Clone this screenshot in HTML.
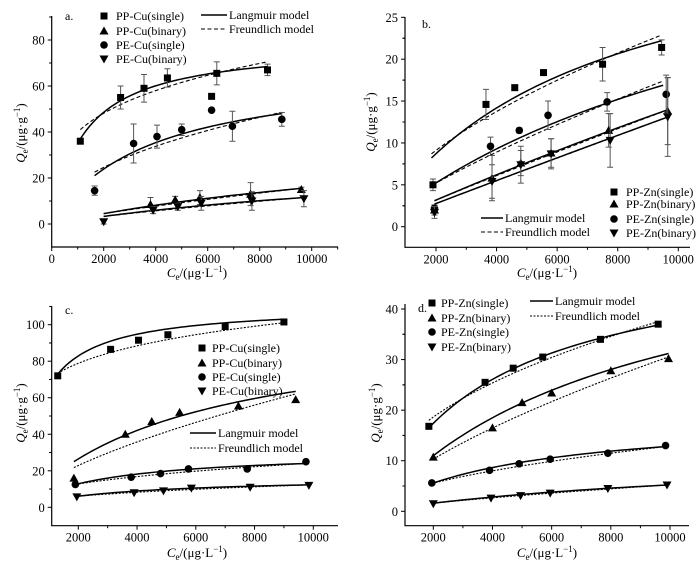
<!DOCTYPE html>
<html><head><meta charset="utf-8"><style>
html,body{margin:0;padding:0;background:#fff;}
svg{display:block;font-family:"Liberation Serif","Noto Serif CJK SC",serif;}
</style></head><body>
<svg id="fig" width="700" height="566" viewBox="0 0 700 566" xmlns="http://www.w3.org/2000/svg"></svg>
<script>
// ---------- Data ----------
const aNames = ["PP-Cu(single)","PP-Cu(binary)","PE-Cu(single)","PE-Cu(binary)"];
const aPPsX = [1100,2650,3550,4450,6150,6350,8300];
const aPPsY = [36,55,59,63.5,55.5,65.5,67];
const aPPsE = [0,5,6,4,0,5,2.5];
const aPPbX = [3800,4750,5700,7650,9600];
const aPPbY = [8.5,10.5,11.5,13,15];
const aPPbE = [3,1.5,3,5,1];
const aPEsX = [1650,3150,4050,5000,6150,6950,8850];
const aPEsY = [14.5,35,38,41,49.5,42.5,45.5];
const aPEsE = [2,8.5,5,2.5,0,6.5,3];
const aPEbX = [2000,3900,4850,5750,7700,9700];
const aPEbY = [1,6,7.5,9,10,11];
const aPEbE = [1,1.5,1.5,3,4,3.5];
const aLang = [[78.7,8.06e-4],[43.4,5.78e-5],[68.05,2.705e-4],[32.45,5.66e-5]];
const aFreu = [[6.28,0.268],[0.01128,0.788],[0.763,0.457],[0.00809,0.791]];
const aRange = [[1100,8300],[2000,9600],[1650,8850],[2000,9700]];

const bNames = ["PP-Zn(single)","PP-Zn(binary)","PE-Zn(single)","PE-Zn(binary)"];
const bPPsX = [1900,3650,4600,5550,7500,9450];
const bPPsY = [5,14.6,16.6,18.4,19.4,21.4];
const bPPsE = [0.7,1.8,0,0,2,0.9];
const bPPbX = [1950,3850,4800,5800,7700,9650];
const bPPbY = [2,5.8,7.6,8.8,11.5,13.8];
const bPPbE = [0.6,2.7,1.5,1.7,2,4];
const bPEsX = [1950,3800,4750,5700,7650,9600];
const bPEsY = [2.2,9.6,11.5,13.3,14.9,15.8];
const bPEsE = [0.3,1.1,0.3,1.7,1.1,2.3];
const bPEbX = [1950,3850,4800,5800,7750,9650];
const bPEbY = [1.7,5.4,7.4,8.7,10.3,13.1];
const bPEbE = [0.7,2,2.2,1.8,3.2,4.7];
const bLang = [[37.99,1.488e-4],[124.4,1.31e-5],[41.7,7.165e-5],[535,2.6e-6]];
const bFreu = [[0.1005,0.593],[0.002484,0.941],[0.01438,0.775],[0.001522,0.9875]];
const bRange = [[1850,9450],[1950,9600],[1900,9500],[1950,9650]];

const cPPsX = [1300,3100,4050,5050,7000,9000];
const cPPsY = [72,86.5,91.5,94.5,99,101.5];
const cPPbX = [1850,3600,4500,5450,7450,9400];
const cPPbY = [16,40,47,52,55.5,59];
const cPEsX = [1900,3800,4800,5750,7750,9750];
const cPEsY = [12.5,16.5,18.5,21,21,25];
const cPEbX = [1950,3900,4900,5850,7850,9850];
const cPEbY = [5.7,8,9,10.5,11,12];
const cLang = [[110.7,1.49e-3],[102,1.755e-4],[30.9,3.58e-4],[16.6,2.9e-4]];
const cFreu = [[22.5,0.165],[0.17,0.645],[0.615,0.399],[0.209,0.443]];
const cRange = [[1300,9000],[1850,9400],[1900,9750],[1950,9850]];

const dPPsX = [1850,3750,4700,5700,7650,9600];
const dPPsY = [16.8,25.5,28.3,30.5,34,37];
const dPPbX = [2000,4000,5000,6000,8000,9950];
const dPPbY = [10.7,16.5,21.5,23.4,27.8,30.2];
const dPEsX = [1950,3900,4900,5950,7900,9850];
const dPEsY = [5.6,8.1,9.4,10.3,11.5,13];
const dPEbX = [2000,3950,4950,5950,7900,9900];
const dPEbY = [1.5,2.6,3.1,3.6,4.5,5.2];
const dLang = [[52.1,2.506e-4],[57.97,1.171e-4],[19.03,2.084e-4],[12.08,7.63e-5]];
const dFreu = [[0.628,0.446],[0.06,0.677],[0.1058,0.5215],[0.0059,0.737]];
const dRange = [[1850,9600],[2000,9950],[1950,9850],[2000,9900]];

const aXTicks = [0,2000,4000,6000,8000,10000];
const aYTicks = [0,20,40,60,80];
const bXTicks = [2000,4000,6000,8000,10000];
const bYTicks = [0,5,10,15,20,25];
const cXTicks = [2000,4000,6000,8000,10000];
const cYTicks = [0,20,40,60,80,100];
const dXTicks = [2000,4000,6000,8000,10000];
const dYTicks = [0,10,20,30,40];

// ---------- Drawing ----------
const NS = "http://www.w3.org/2000/svg";
const svg = document.getElementById("fig");
const FONT = '"Liberation Serif", serif';
function mk(tag, attrs, parent){
  const e = document.createElementNS(NS, tag);
  for (const k in attrs) e.setAttribute(k, attrs[k]);
  if (tag==="text") e.setAttribute("font-family", FONT);
  (parent||svg).appendChild(e);
  return e;
}
function marker(g, shape, x, y){
  let m;
  if (shape==="sq") m = mk("rect",{x:x-3.5,y:y-3.5,width:7,height:7,fill:"#000"},g);
  else if (shape==="ci") m = mk("circle",{cx:x,cy:y,r:3.8,fill:"#000"},g);
  else if (shape==="tu") m = mk("polygon",{points:`${x},${y-4.5} ${x+4.5},${y+3.5} ${x-4.5},${y+3.5}`,fill:"#000"},g);
  else m = mk("polygon",{points:`${x},${y+4.5} ${x+4.5},${y-3.5} ${x-4.5},${y-3.5}`,fill:"#000"},g);
  return m;
}
const shapes = ["sq","tu","ci","td"];

function panel(p){
  const g = mk("g",{});
  
  
  const sx = v => p.px0 + (v - p.xv0)*(p.px1-p.px0)/(p.xv1-p.xv0);
  const sy = v => p.py0 + (v - p.yv0)*(p.py1-p.py0)/(p.yv1-p.yv0);
  const ax = mk("path",{d:`M${p.L},${p.T} L${p.L},${p.B} L${p.R},${p.B}`,stroke:"#000","stroke-width":1.2,fill:"none"},g);
  
  
  for (const t of p.xt){
    const X = sx(t);
    mk("line",{x1:X,y1:p.B,x2:X,y2:p.B+4,stroke:"#000","stroke-width":1},g);
    const tx = mk("text",{x:X,y:p.B+16,"font-size":12.5,"text-anchor":"middle"},g);
    tx.textContent = t;
    
    
    const mx = sx(t + (p.xt[1]-p.xt[0])/2);
    if (mx < p.R) mk("line",{x1:mx,y1:p.B,x2:mx,y2:p.B+2.5,stroke:"#000","stroke-width":1},g);
    const mx2 = sx(t - (p.xt[1]-p.xt[0])/2);
    if (mx2 > p.L+1 && t===p.xt[0]) mk("line",{x1:mx2,y1:p.B,x2:mx2,y2:p.B+2.5,stroke:"#000","stroke-width":1},g);
  }
  for (const t of p.yt){
    const Y = sy(t);
    mk("line",{x1:p.L-4,y1:Y,x2:p.L,y2:Y,stroke:"#000","stroke-width":1},g);
    const ty = mk("text",{x:p.L-7,y:Y+4.5,"font-size":12.5,"text-anchor":"end"},g);
    ty.textContent = t;
    
    
    const h = (p.yt[1]-p.yt[0])/2;
    for (const m of [t-h, t+h]){
      const my = sy(m);
      if (my>p.T && my<p.B-1) mk("line",{x1:p.L-2.5,y1:my,x2:p.L,y2:my,stroke:"#000","stroke-width":1},g);
    }
  }
  const xt = mk("text",{x:p.xtx,y:p.xty,"font-size":13,"text-anchor":"middle"},g);
  xt.innerHTML = '<tspan font-style="italic">C</tspan><tspan font-size="9" dy="3">e</tspan><tspan dy="-3">/(μg·L</tspan><tspan font-size="9" dy="-5">−1</tspan><tspan dy="5">)</tspan>';
  
  
  const yt = mk("text",{x:0,y:0,"font-size":13,"text-anchor":"middle",transform:`translate(${p.ytx},${p.yty}) rotate(-90)`},g);
  yt.innerHTML = '<tspan font-style="italic">Q</tspan><tspan font-size="9" dy="3">e</tspan><tspan dy="-3">/(μg·g</tspan><tspan font-size="9" dy="-5">−1</tspan><tspan dy="5">)</tspan>';
  
  
  const lb = mk("text",{x:p.lx,y:p.ly,"font-size":12},g);
  lb.textContent = p.label;
  
  
  for (let i=0;i<4;i++){
    const [x0,x1] = p.range[i];
    let dl="", df="";
    for (let k=0;k<=60;k++){
      const c = x0 + (x1-x0)*k/60;
      const [qm,K] = p.lang[i]; const [kf,n] = p.freu[i];
      const ql = qm*K*c/(1+K*c), qf = kf*Math.pow(c,n);
      dl += (k?"L":"M")+sx(c).toFixed(2)+","+sy(ql).toFixed(2);
      df += (k?"L":"M")+sx(c).toFixed(2)+","+sy(qf).toFixed(2);
    }
    const lf = mk("path",{d:df,stroke:"#000","stroke-width":1.1,fill:"none","stroke-dasharray":p.dash},g);
    
    
    const ll = mk("path",{d:dl,stroke:"#000","stroke-width":1.5,fill:"none"},g);
    
    
  }
  for (let i=0;i<4;i++){
    const s = p.series[i];
    for (let k=0;k<s.x.length;k++){
      const X = sx(s.x[k]), Y = sy(s.y[k]);
      const e = s.e ? s.e[k] : 0;
      if (e>0){
        const y1 = sy(s.y[k]+e), y2 = sy(s.y[k]-e);
        mk("path",{d:`M${X},${y1}L${X},${y2}M${X-3},${y1}L${X+3},${y1}M${X-3},${y2}L${X+3},${y2}`,stroke:"#555","stroke-width":1,fill:"none"},g);
      }
      const m = marker(g, shapes[i], X, Y);
      
      
    }
  }
  for (let i=0;i<4;i++){
    const Y = p.leg.y[i];
    const m = marker(g, shapes[i], p.leg.mx, Y-4);
    
    
    const t = mk("text",{x:p.leg.tx,y:Y,"font-size":12},g);
    t.textContent = p.names[i];
    
    
  }
  const lm = p.leg.models;
  for (let j=0;j<2;j++){
    const Y = lm.y[j];
    const ln = mk("line",{x1:lm.x0,y1:Y-4,x2:lm.x1,y2:Y-4,stroke:"#000","stroke-width":j?1.1:1.5},g);
    if (j) ln.setAttribute("stroke-dasharray", p.dash);
    const t = mk("text",{x:lm.x1+2,y:Y,"font-size":12},g);
    t.textContent = j ? "Freundlich model" : "Langmuir model";
    
    
  }
}

panel({id:"panel-a",label:"a.",lx:65,ly:20,px0:51.7,px1:311.7,xv0:0,xv1:10000,py0:224,py1:40,yv0:0,yv1:80,
  L:51.7,R:338,T:16,B:247,xt:aXTicks,yt:aYTicks,xtx:197,xty:277,ytx:25,yty:133,dash:"4,2.5",
  names:aNames,lang:aLang,freu:aFreu,range:aRange,
  series:[{x:aPPsX,y:aPPsY,e:aPPsE},{x:aPPbX,y:aPPbY,e:aPPbE},{x:aPEsX,y:aPEsY,e:aPEsE},{x:aPEbX,y:aPEbY,e:aPEbE}],
  leg:{mx:104,tx:116,y:[20,35,49,63],models:{x0:201,x1:227,y:[19,33]}}});
panel({id:"panel-b",label:"b.",lx:422,ly:28,px0:436,px1:678.3,xv0:2000,xv1:10000,py0:226.7,py1:17.3,yv0:0,yv1:25,
  L:405,R:690,T:17,B:247.3,xt:bXTicks,yt:bYTicks,xtx:547,xty:277,ytx:375,yty:122,dash:"4,2.5",
  names:bNames,lang:bLang,freu:bFreu,range:bRange,
  series:[{x:bPPsX,y:bPPsY,e:bPPsE},{x:bPPbX,y:bPPbY,e:bPPbE},{x:bPEsX,y:bPEsY,e:bPEsE},{x:bPEbX,y:bPEbY,e:bPEbE}],
  leg:{mx:614,tx:626,y:[196,208,223,237],models:{x0:481,x1:503,y:[222,236]}}});
panel({id:"panel-c",label:"c.",lx:65,ly:314,px0:78.3,px1:313.3,xv0:2000,xv1:10000,py0:507.3,py1:324.7,yv0:0,yv1:100,
  L:51.7,R:338,T:306,B:525.7,xt:cXTicks,yt:cYTicks,xtx:197,xty:557,ytx:25,yty:413,dash:"2,1.5",
  names:aNames,lang:cLang,freu:cFreu,range:cRange,
  series:[{x:cPPsX,y:cPPsY},{x:cPPbX,y:cPPbY},{x:cPEsX,y:cPEsY},{x:cPEbX,y:cPEbY}],
  leg:{mx:202,tx:212,y:[352,367,381,395],models:{x0:190,x1:216,y:[437,452]}}});
panel({id:"panel-d",label:"d.",lx:418,ly:312,px0:433.3,px1:670,xv0:2000,xv1:10000,py0:511.3,py1:309,yv0:0,yv1:40,
  L:405,R:689,T:304,B:525.7,xt:dXTicks,yt:dYTicks,xtx:547,xty:557,ytx:380,yty:413,dash:"2,1.5",
  names:bNames,lang:dLang,freu:dFreu,range:dRange,
  series:[{x:dPPsX,y:dPPsY},{x:dPPbX,y:dPPbY},{x:dPEsX,y:dPEsY},{x:dPEbX,y:dPEbY}],
  leg:{mx:432,tx:441,y:[307,322,336,351],models:{x0:530,x1:553,y:[305,320]}}});
</script>
</body></html>
